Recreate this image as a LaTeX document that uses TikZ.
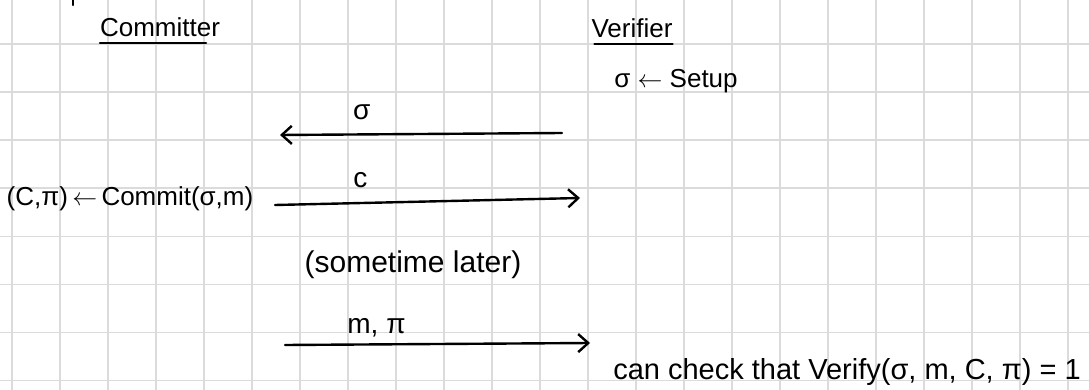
\documentclass[tikz,border=0pt]{standalone}
\usepackage{fontspec}
\setmainfont{Liberation Sans}
\usepackage{tikz}
\usetikzlibrary{arrows.meta,positioning}
\tikzset{
    grade/.style={draw=black!14, line width=1.6pt},
    texto/.style={
        font=\fontsize{26}{30}\selectfont,
        inner sep=0pt,
        anchor=base
    },
    textoGrande/.style={texto, font=\fontsize{30}{34}\selectfont},
    rotulo/.style={font=\fontsize{28}{32}\selectfont, inner sep=0pt},
    sublinhado/.style={line width=2.2pt, line cap=round},
    fluxo/.style={
        -{Straight Barb[length=10pt,width=18pt,line width=2.4pt]},
        line width=2.4pt,
        line cap=round
    }
}

\begin{document}
\begin{tikzpicture}[x=1pt, y=-1pt]
        \useasboundingbox[fill=white] (0,0) rectangle (1089,390);
        % papel quadriculado
        \foreach \i in {0,...,22} \draw[grade] (11.7+48*\i,0) -- (11.7+48*\i,390);
        \foreach \j in {0,...,7} \draw[grade] (0,44.3+48*\j) -- (1089,44.3+48*\j);
        \draw[line width=2.2pt, line cap=round] (73,0) -- (73,5);

        \node[texto] (committer) at (160,37) {Committer};
        \node[texto] (verifier) at (632,38) {Verifier};
        \node[texto] (setup) at (676,88) {σ $\leftarrow$ Setup};
        \node[texto] (commit) at (130,205) {(C,π)\,$\leftarrow$\,Commit(σ,m)};
        \node[textoGrande] (later) at (413,272) {(sometime later)};
        \node[texto, font=\fontsize{29}{33}\selectfont] (check) at (847,379) {can check that Verify(σ, m, C, π) = 1};

        \draw[sublinhado] ([yshift=-6pt]committer.base west) -- ([xshift=-14pt, yshift=-6pt]committer.base east);
        \draw[sublinhado] ([xshift=3pt, yshift=-6pt]verifier.base west) -- ([yshift=-6pt]verifier.base east);

        \coordinate (sigmaIni) at (562,133);
        \coordinate (sigmaFim) at (280,135);
        \coordinate (cIni) at (275,205);
        \coordinate (cFim) at (580,198);
        \coordinate (abreIni) at (285,345);
        \coordinate (abreFim) at (590,343);

        \draw[fluxo] (sigmaIni) -- node[rotulo, above=13pt, pos=0.71] (sigma) {σ} (sigmaFim);
        \draw[fluxo] (cIni) -- node[rotulo, above=14pt, pos=0.28] (c) {c} (cFim);
        \draw[fluxo] (abreIni) -- node[rotulo, above=6pt, pos=0.30] (mpi) {m, π} (abreFim);
    \end{tikzpicture}
\end{document}
